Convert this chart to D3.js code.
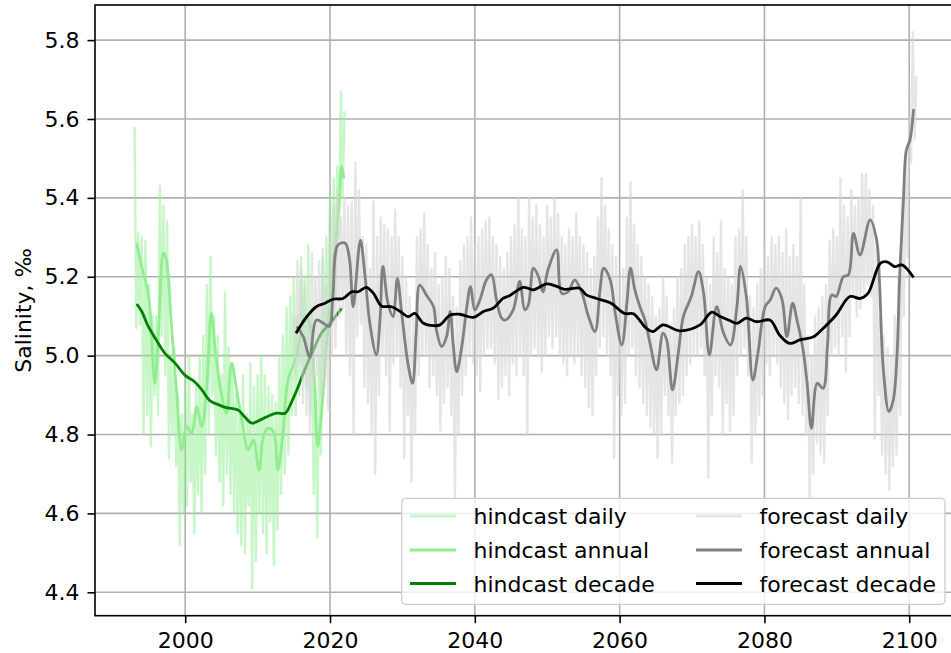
<!DOCTYPE html>
<html>
<head>
<meta charset="utf-8">
<script src="https://cdn.jsdelivr.net/npm/d3@7"></script>
<style>
  body { margin: 0; background: #fff; }
  text { font-family: "DejaVu Sans", sans-serif; }
</style>
</head>
<body>
<svg id="chart" width="951" height="653"></svg>
<script>
// ---- axis ticks ----
const xTicks = [2000, 2020, 2040, 2060, 2080, 2100];
const yTicks = [4.4, 4.6, 4.8, 5.0, 5.2, 5.4, 5.6, 5.8];

// ---- hindcast daily: quarter-year samples from 1993.0 ----
const hindDailyStart = 1993.0;
const hindDaily = [
  5.58, 5.07, 5.31, 5.08,
  5.30, 4.80, 5.29, 4.85,
  5.18, 4.77, 5.10, 4.90,
  5.10, 4.85, 5.43, 5.05,
  5.38, 4.95, 5.34, 4.74,
  5.00, 4.80, 5.02, 4.72,
  4.90, 4.52, 4.85, 4.60,
  4.95, 4.62, 5.00, 4.68,
  4.85, 4.55, 4.92, 4.65,
  5.00, 4.60, 5.05, 4.70,
  5.18, 4.80, 5.25, 4.90,
  5.10, 4.75, 5.05, 4.68,
  4.95, 4.62, 5.16, 4.70,
  5.02, 4.65, 4.98, 4.60,
  4.90, 4.55, 4.88, 4.52,
  4.95, 4.50, 4.85, 4.62,
  4.98, 4.41, 4.92, 4.48,
  4.95, 4.60, 5.00, 4.55,
  4.95, 4.50, 4.92, 4.58,
  4.90, 4.47, 4.88, 4.56,
  5.00, 4.65, 5.05, 4.70,
  5.12, 4.75, 5.15, 4.85,
  5.20, 4.85, 5.10, 4.90,
  5.25, 4.95, 5.20, 4.92,
  5.28, 4.85, 5.12, 4.65,
  4.92, 4.54, 5.00, 4.75,
  5.25, 4.95, 5.30, 5.05,
  5.40, 5.10, 5.45, 5.15,
  5.48, 5.30, 5.67, 5.40,
  5.62
];

// ---- hindcast annual mean ----
const hindAnnualYears = [1993.3,1994.0,1994.7,1995.1,1995.8,1996.3,1997.0,1997.4,1998.1,1998.8,1999.5,2000.2,2000.9,2001.6,2002.3,2003.0,2003.6,2004.2,2004.9,2005.7,2006.4,2007.1,2007.8,2008.7,2009.4,2010.2,2010.8,2011.5,2012.2,2012.8,2013.5,2014.2,2015.2,2015.8,2016.5,2017.2,2017.8,2018.3,2018.8,2019.4,2019.8,2020.4,2020.9,2021.3,2021.6,2021.9];
const hindAnnual = [5.285,5.226,5.175,5.124,4.930,5.057,5.260,5.243,5.074,4.913,4.761,4.820,4.803,4.871,4.820,4.930,5.107,5.006,4.913,4.854,4.981,4.913,4.837,4.761,4.786,4.710,4.795,4.816,4.807,4.710,4.803,4.938,4.989,5.040,5.100,5.080,4.950,4.770,4.850,5.000,5.090,5.200,5.310,5.400,5.480,5.450];

// ---- hindcast decadal mean ----
const hindDecadeYears = [1993.3,1994.0,1994.9,1996.0,1997.2,1998.6,2000.0,2001.3,2002.3,2003.4,2004.8,2005.7,2007.3,2008.2,2009.2,2010.6,2011.5,2012.6,2013.8,2014.7,2015.6,2016.5,2017.7,2018.8,2020.0,2021.6];
const hindDecade = [5.131,5.112,5.074,5.040,5.006,4.981,4.950,4.934,4.913,4.886,4.874,4.868,4.862,4.845,4.829,4.839,4.847,4.854,4.854,4.883,4.921,4.964,5.014,5.057,5.082,5.120];

// ---- forecast daily: quarter-year samples from 2015.0 ----
const foreDailyStart = 2015.0;
const foreDaily = [
  5.10, 4.95, 5.24, 4.98,
  5.22, 4.88, 5.18, 4.85,
  5.10, 4.80, 5.26, 4.92,
  5.20, 4.95, 5.24, 4.90,
  5.27, 4.92, 5.18, 4.86,
  5.30, 5.00, 5.38, 5.02,
  5.42, 5.10, 5.35, 5.12,
  5.40, 5.00, 5.38, 4.95,
  5.39, 4.80, 5.49, 5.05,
  5.42, 5.08, 5.30, 4.92,
  5.28, 4.88, 5.22, 4.80,
  5.39, 4.70, 5.30, 4.90,
  5.35, 5.00, 5.33, 4.95,
  5.32, 4.81, 5.30, 4.98,
  5.37, 5.00, 5.30, 4.92,
  5.25, 4.74, 5.20, 4.85,
  5.15, 4.68, 5.10, 4.80,
  5.30, 4.95, 5.32, 5.00,
  5.36, 5.00, 5.28, 4.92,
  5.22, 4.95, 5.26, 4.90,
  5.18, 4.81, 5.20, 4.88,
  5.25, 4.92, 5.22, 4.85,
  5.15, 4.64, 5.12, 4.80,
  5.24, 4.90, 5.28, 4.95,
  5.30, 5.00, 5.35, 4.98,
  5.28, 4.95, 5.30, 4.91,
  5.32, 5.00, 5.34, 5.02,
  5.35, 5.02, 5.30, 4.98,
  5.28, 4.89, 5.25, 4.92,
  5.22, 4.95, 5.26, 4.90,
  5.30, 4.98, 5.33, 4.95,
  5.40, 5.00, 5.32, 4.95,
  5.30, 4.80, 5.40, 5.00,
  5.35, 5.02, 5.38, 5.00,
  5.33, 4.96, 5.30, 5.00,
  5.38, 5.05, 5.35, 5.02,
  5.40, 5.05, 5.36, 5.00,
  5.30, 4.98, 5.28, 4.95,
  5.32, 5.00, 5.30, 4.98,
  5.36, 5.00, 5.30, 4.95,
  5.28, 4.92, 5.26, 4.87,
  5.22, 4.85, 5.25, 4.95,
  5.35, 5.02, 5.45, 5.05,
  5.38, 5.00, 5.32, 4.95,
  5.28, 4.74, 5.25, 4.90,
  5.20, 4.85, 5.22, 4.88,
  5.35, 5.00, 5.44, 5.02,
  5.33, 4.95, 5.28, 4.92,
  5.25, 4.88, 5.20, 4.85,
  5.18, 4.82, 5.15, 4.80,
  5.10, 4.74, 5.12, 4.80,
  5.20, 4.90, 5.15, 4.85,
  5.08, 4.73, 5.12, 4.85,
  5.20, 4.88, 5.22, 4.90,
  5.28, 4.95, 5.30, 4.98,
  5.33, 5.00, 5.30, 5.00,
  5.34, 5.02, 5.28, 4.95,
  5.20, 4.69, 5.18, 4.85,
  5.30, 4.95, 5.26, 4.92,
  5.34, 4.80, 5.22, 4.88,
  5.20, 4.81, 5.18, 4.85,
  5.30, 4.95, 5.32, 5.00,
  5.42, 5.02, 5.30, 4.95,
  5.15, 4.73, 5.12, 4.80,
  5.18, 4.85, 5.22, 4.90,
  5.28, 4.98, 5.25, 4.95,
  5.30, 5.00, 5.28, 4.98,
  5.30, 4.92, 5.26, 4.88,
  5.32, 4.84, 5.25, 4.90,
  5.28, 4.92, 5.25, 4.88,
  5.40, 4.85, 5.18, 4.80,
  5.05, 4.64, 5.00, 4.70,
  5.10, 4.78, 5.12, 4.75,
  5.15, 4.73, 5.18, 4.85,
  5.29, 5.00, 5.32, 5.02,
  5.30, 5.00, 5.45, 5.05,
  5.38, 4.96, 5.35, 5.05,
  5.42, 5.15, 5.38, 5.10,
  5.40, 5.12, 5.46, 5.15,
  5.46, 5.18, 5.42, 5.15,
  5.38, 4.79, 5.30, 4.90,
  5.10, 4.75, 5.05, 4.70,
  5.02, 4.66, 5.00, 4.72,
  5.10, 4.75, 5.20, 4.85,
  5.40, 5.10, 5.50, 5.25,
  5.60, 5.49, 5.82, 5.55,
  5.71
];

// ---- forecast annual mean ----
const foreAnnualYears = [2015.4,2016.3,2017.2,2018.1,2019.1,2019.9,2020.4,2021.1,2022.1,2022.7,2023.2,2024.2,2024.8,2025.5,2026.4,2026.9,2027.3,2028.0,2028.7,2029.3,2029.9,2030.8,2031.4,2031.9,2032.4,2033.3,2034.3,2034.7,2035.4,2036.1,2036.6,2037.0,2037.5,2038.2,2038.9,2039.4,2040.0,2040.7,2041.6,2042.3,2043.0,2043.7,2044.2,2045.3,2046.2,2046.9,2047.4,2048.1,2048.8,2049.4,2050.1,2051.3,2052.0,2052.9,2053.8,2054.8,2055.7,2056.6,2057.3,2057.8,2058.7,2059.4,2060.3,2061.0,2061.5,2062.1,2062.8,2063.5,2064.2,2065.1,2066.0,2066.5,2067.3,2068.1,2068.8,2069.9,2070.9,2071.6,2072.4,2073.4,2074.3,2075.3,2076.2,2076.7,2077.5,2078.4,2079.1,2080.1,2080.8,2081.6,2082.4,2083.1,2083.9,2084.5,2085.3,2085.9,2086.5,2087.3,2088.1,2088.7,2089.3,2089.9,2090.9,2091.6,2092.3,2093.2,2094.6,2095.5,2095.9,2096.4,2097.2,2097.8,2098.3,2098.7,2099.2,2099.6,2100.1,2100.6];
const foreAnnual = [5.074,5.048,4.997,5.090,5.082,5.074,5.150,5.281,5.285,5.243,5.124,5.293,5.209,5.082,5.002,5.090,5.226,5.133,5.099,5.196,5.107,4.976,4.930,5.057,5.179,5.154,5.124,5.065,5.023,5.048,5.112,5.031,4.959,5.023,5.124,5.175,5.116,5.141,5.192,5.205,5.141,5.095,5.090,5.116,5.188,5.116,5.129,5.222,5.200,5.162,5.217,5.268,5.158,5.162,5.192,5.158,5.099,5.061,5.167,5.222,5.192,5.107,5.027,5.133,5.222,5.167,5.124,5.090,5.031,4.964,5.057,5.040,4.913,5.006,5.099,5.150,5.213,5.158,5.002,5.124,5.060,5.027,5.124,5.226,5.150,4.938,5.006,5.124,5.141,5.171,5.145,5.048,5.133,5.090,5.019,4.930,4.816,4.930,4.917,5.023,5.154,5.150,5.200,5.205,5.310,5.255,5.344,5.293,5.184,4.972,4.858,4.888,4.997,5.209,5.395,5.521,5.547,5.625];

// ---- forecast decadal mean ----
const foreDecadeYears = [2015.3,2016.8,2018.1,2019.3,2020.4,2021.8,2023.0,2023.9,2025.0,2026.0,2027.1,2028.5,2029.7,2030.8,2031.7,2032.9,2034.3,2035.2,2036.6,2037.9,2039.8,2041.2,2042.5,2043.9,2044.8,2046.7,2048.1,2049.9,2051.1,2052.4,2054.5,2055.4,2056.8,2058.7,2060.7,2061.9,2063.7,2064.6,2066.0,2068.3,2071.1,2072.7,2073.9,2075.2,2076.2,2077.5,2078.9,2080.8,2082.1,2083.5,2084.9,2086.7,2088.1,2089.9,2091.8,2093.2,2094.3,2096.0,2096.9,2098.0,2099.0,2100.6];
const foreDecade = [5.057,5.099,5.124,5.133,5.143,5.145,5.162,5.162,5.173,5.158,5.126,5.124,5.112,5.099,5.107,5.082,5.076,5.078,5.103,5.105,5.097,5.112,5.120,5.145,5.152,5.173,5.167,5.182,5.177,5.168,5.171,5.154,5.145,5.134,5.107,5.106,5.069,5.061,5.078,5.063,5.078,5.110,5.099,5.089,5.082,5.095,5.086,5.090,5.052,5.031,5.040,5.047,5.069,5.103,5.150,5.145,5.158,5.234,5.238,5.226,5.230,5.198];

// ---- layout ----
const svg = d3.select("#chart");
const plot = { left: 95, top: 5, right: 956, bottom: 615.7 };
const x = d3.scaleLinear().domain([1987.54, 2106.46]).range([plot.left, plot.right]);
const y = d3.scaleLinear().domain([4.3407, 5.889]).range([plot.bottom, plot.top]);

svg.append("rect").attr("width", 951).attr("height", 653).attr("fill", "#fff");

svg.append("defs").append("clipPath").attr("id", "plot-clip")
  .append("rect")
  .attr("x", plot.left).attr("y", plot.top)
  .attr("width", plot.right - plot.left).attr("height", plot.bottom - plot.top);

// grid
const grid = svg.append("g").attr("class", "grid");
grid.selectAll("line.gx").data(xTicks).join("line")
  .attr("x1", d => x(d)).attr("x2", d => x(d))
  .attr("y1", plot.top).attr("y2", plot.bottom)
  .attr("stroke", "#b0b0b0").attr("stroke-width", 1.6);
grid.selectAll("line.gy").data(yTicks).join("line")
  .attr("x1", plot.left).attr("x2", plot.right)
  .attr("y1", d => y(d)).attr("y2", d => y(d))
  .attr("stroke", "#b0b0b0").attr("stroke-width", 1.6);

// series
const toPoints = (years, vals) => vals.map((v, i) => [years[i], v]);
const regular = (start, vals) => vals.map((v, i) => [start + i * 0.25, v]);

const straight = d3.line().x(d => x(d[0])).y(d => y(d[1]));
const smooth = d3.line().x(d => x(d[0])).y(d => y(d[1])).curve(d3.curveCatmullRom.alpha(0.5));

const series = [
  { name: "hindcast daily",   pts: regular(hindDailyStart, hindDaily),          gen: straight, color: "#90ee90", opacity: 0.5, width: 2.4 },
  { name: "hindcast annual",  pts: toPoints(hindAnnualYears, hindAnnual),       gen: smooth,   color: "#90ee90", opacity: 1,   width: 2.8 },
  { name: "hindcast decade",  pts: toPoints(hindDecadeYears, hindDecade),       gen: smooth,   color: "#008000", opacity: 1,   width: 2.8 },
  { name: "forecast daily",   pts: regular(foreDailyStart, foreDaily),          gen: straight, color: "#d3d3d3", opacity: 0.6, width: 2.4 },
  { name: "forecast annual",  pts: toPoints(foreAnnualYears, foreAnnual),       gen: smooth,   color: "#808080", opacity: 1,   width: 2.8 },
  { name: "forecast decade",  pts: toPoints(foreDecadeYears, foreDecade),       gen: smooth,   color: "#000000", opacity: 1,   width: 2.8 }
];

const lines = svg.append("g").attr("clip-path", "url(#plot-clip)");
series.forEach(s => {
  lines.append("path")
    .attr("d", s.gen(s.pts))
    .attr("fill", "none")
    .attr("stroke", s.color)
    .attr("stroke-opacity", s.opacity)
    .attr("stroke-width", s.width)
    .attr("stroke-linejoin", "round")
    .attr("stroke-linecap", "butt");
});

// axes
const yAxis = svg.append("g").attr("transform", `translate(${plot.left},0)`)
  .call(d3.axisLeft(y).tickValues(yTicks).tickFormat(d3.format(".1f")).tickSize(7.5).tickPadding(8));
const xAxis = svg.append("g").attr("transform", `translate(0,${plot.bottom})`)
  .call(d3.axisBottom(x).tickValues(xTicks).tickFormat(d3.format("d")).tickSize(7.5).tickPadding(9));
[xAxis, yAxis].forEach(a => {
  a.select(".domain").remove();
  a.selectAll(".tick line").attr("stroke", "#000").attr("stroke-width", 1.6);
  a.selectAll(".tick text").attr("fill", "#000").style("font-size", "22px")
    .style("font-family", "'DejaVu Sans', sans-serif");
});

// spines (right spine sits just outside the visible area)
const spines = svg.append("g").attr("stroke", "#000").attr("stroke-width", 1.6).attr("fill", "none");
spines.append("rect")
  .attr("x", plot.left).attr("y", plot.top)
  .attr("width", plot.right - plot.left).attr("height", plot.bottom - plot.top);

// y label
svg.append("text")
  .attr("transform", `translate(31,${(plot.top + plot.bottom) / 2}) rotate(-90)`)
  .attr("text-anchor", "middle")
  .style("font-size", "22px")
  .attr("fill", "#000")
  .text("Salinity, ‰");

// legend
const legend = svg.append("g");
legend.append("rect")
  .attr("x", 401.7).attr("y", 498.3).attr("width", 543.3).attr("height", 106)
  .attr("rx", 4).attr("ry", 4)
  .attr("fill", "#fff").attr("fill-opacity", 0.8)
  .attr("stroke", "#cccccc").attr("stroke-width", 1.3);

const colX = [410, 696];
const rowY = [516, 550, 583.5];
series.forEach((s, i) => {
  const col = Math.floor(i / 3), row = i % 3;
  const hx = colX[col], hy = rowY[row];
  legend.append("line")
    .attr("x1", hx).attr("x2", hx + 46)
    .attr("y1", hy).attr("y2", hy)
    .attr("stroke", s.color).attr("stroke-opacity", s.opacity)
    .attr("stroke-width", 2.8);
  legend.append("text")
    .attr("x", hx + 63.5).attr("y", hy + 8.3)
    .style("font-size", "22px")
    .attr("fill", "#000")
    .text(s.name);
});
</script>
</body>
</html>
